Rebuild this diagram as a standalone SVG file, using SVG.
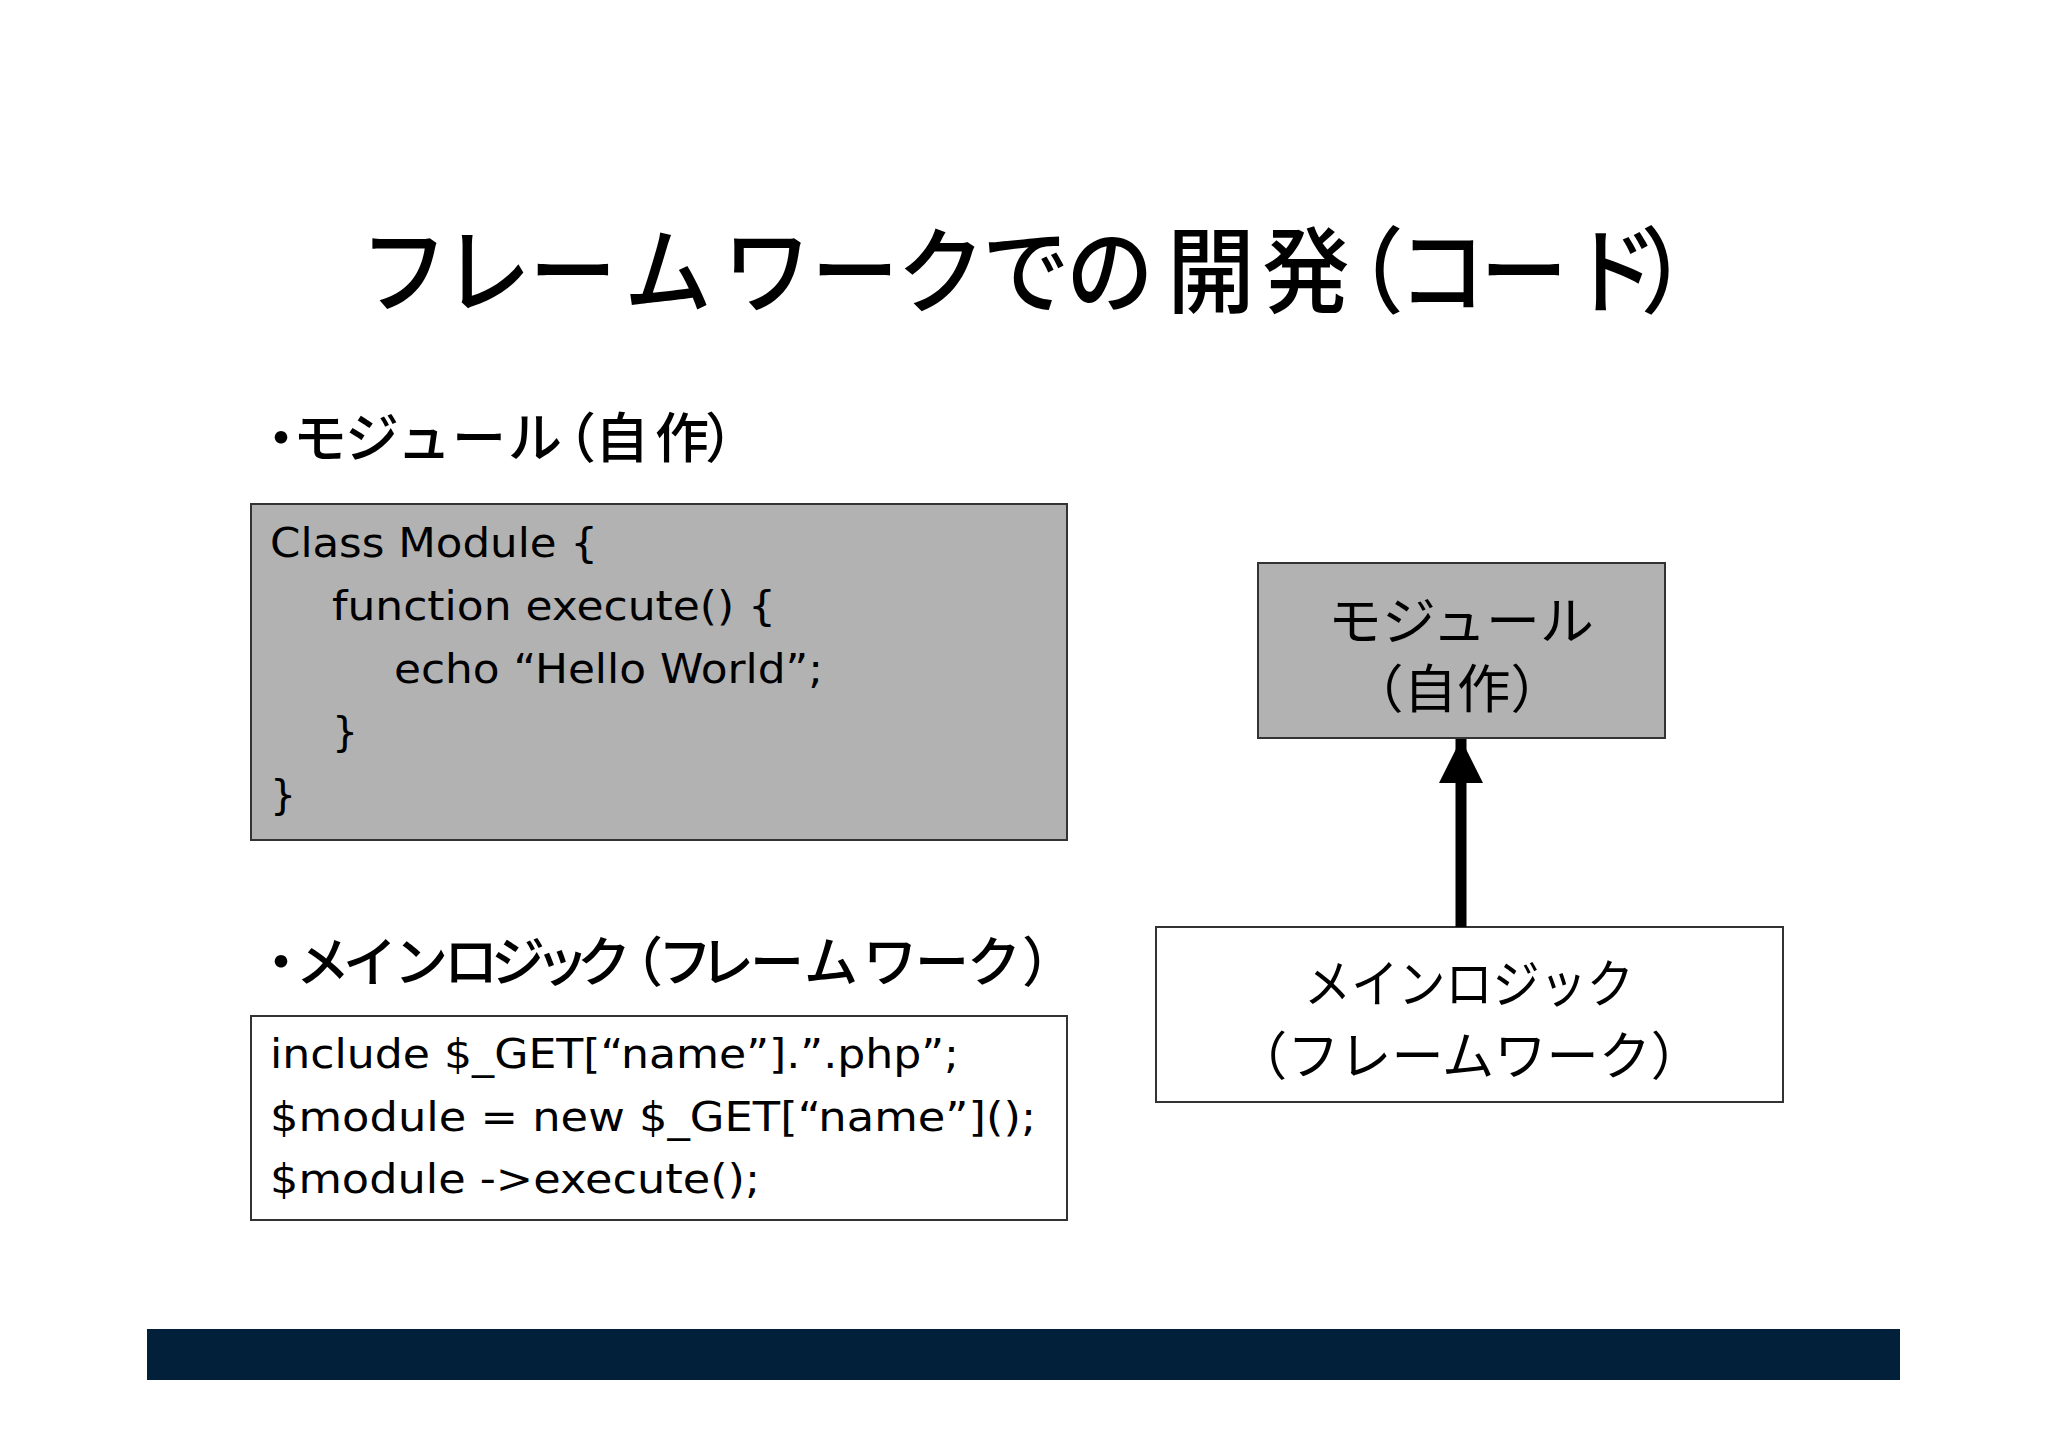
<svg xmlns="http://www.w3.org/2000/svg" width="2048" height="1447" viewBox="0 0 2048 1447">
<style>
.jp{font-family:"Noto Sans CJK JP","Noto Sans",sans-serif;fill:#000}
.hd{font-weight:500;text-anchor:middle}
.code{font-family:"DejaVu Sans","Liberation Sans",sans-serif;font-size:41px;fill:#000}
.box{stroke:#333;stroke-width:2}
.gray{fill:#b2b2b2}
.white{fill:#fff}
</style>
<defs>
<marker id="arr" markerUnits="userSpaceOnUse" markerWidth="44" markerHeight="46" refX="44" refY="22" orient="auto">
<path d="M0,0 L44,22 L0,44 Z" fill="#000"/>
</marker>
</defs>
<rect width="2048" height="1447" fill="#fff"/>
<g id="title">
<text class="jp hd" transform="scale(0.93 1)" y="306" font-size="94" x="434.4 523.7 616.1 718.3 824.7 919.4 1011.8 1103.2 1193.5 1302.2 1404.3 1462.4 1550.5 1638.7 1735.5 1811.3">フレームワークでの開発（コード）</text>
</g>
<g id="heading-module">
<text class="jp hd" y="458" font-size="54" x="281 320 372 424 479 535 569 622 682 732">・モジュール（自作）</text>
</g>
<g id="code-module">
<rect class="box gray" x="251" y="504" width="816" height="336"/>
<text class="code" x="270" y="557" textLength="328" lengthAdjust="spacingAndGlyphs">Class Module {</text>
<text class="code" x="332" y="620" textLength="444" lengthAdjust="spacingAndGlyphs">function execute() {</text>
<text class="code" x="394" y="683" textLength="429" lengthAdjust="spacingAndGlyphs">echo “Hello World”;</text>
<text class="code" x="332" y="746">}</text>
<text class="code" x="270" y="809">}</text>
</g>
<g id="heading-main">
<text class="jp hd" y="982" font-size="54" x="281 323 370 421 471 518 562 604 636 685 727 777 831 890 942 994 1049">・メインロジック（フレームワーク）</text>
</g>
<g id="code-main">
<rect class="box white" x="251" y="1016" width="816" height="204"/>
<text class="code" x="270" y="1068" textLength="689" lengthAdjust="spacingAndGlyphs">include $_GET[“name”].”.php”;</text>
<text class="code" x="270" y="1131" textLength="766" lengthAdjust="spacingAndGlyphs">$module = new $_GET[“name”]();</text>
<text class="code" x="270" y="1193" textLength="490" lengthAdjust="spacingAndGlyphs">$module -&gt;execute();</text>
</g>
<g id="node-module">
<rect class="box gray" x="1258" y="563" width="407" height="175"/>
<text class="jp" x="1461" y="640" font-size="52" text-anchor="middle" textLength="266" lengthAdjust="spacingAndGlyphs">モジュール</text>
<text class="jp" x="1457" y="708" font-size="52" text-anchor="middle" textLength="214" lengthAdjust="spacingAndGlyphs">（自作）</text>
</g>
<g id="node-main">
<rect class="box white" x="1156" y="927" width="627" height="175"/>
<text class="jp" x="1469" y="1003" font-size="52" text-anchor="middle" textLength="330" lengthAdjust="spacingAndGlyphs">メインロジック</text>
<text class="jp" x="1469" y="1075" font-size="52" text-anchor="middle" textLength="468" lengthAdjust="spacingAndGlyphs">（フレームワーク）</text>
</g>
<g id="connectors">
<line x1="1461" y1="927" x2="1461" y2="739" stroke="#000" stroke-width="11" marker-end="url(#arr)"/>
</g>
<rect id="footer-bar" x="147" y="1329" width="1753" height="51" fill="#02203a"/>
</svg>
